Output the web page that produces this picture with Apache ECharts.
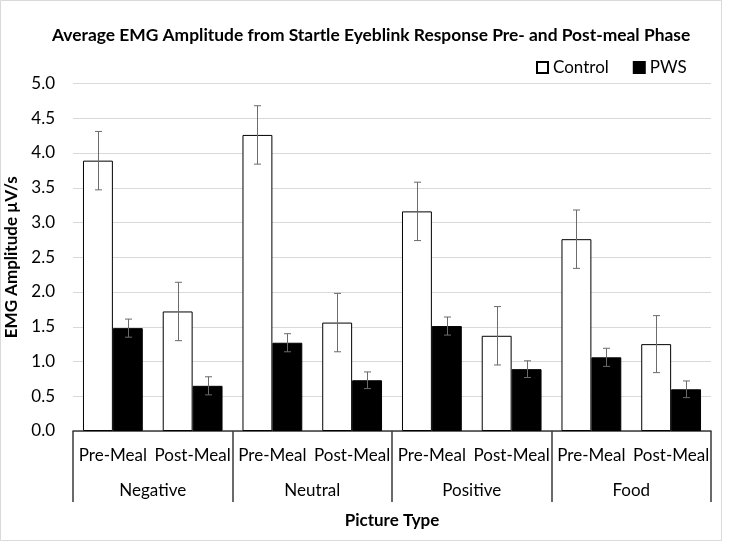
<!DOCTYPE html>
<html>
<head>
<meta charset="utf-8">
<script src="https://cdn.jsdelivr.net/npm/echarts@6/dist/echarts.min.js"></script>
<style>
html,body{margin:0;padding:0;background:#fff;}
#main{width:729px;height:542px;}
</style>
</head>
<body>
<div id="main"></div>
<script>
var phases = ['Pre-Meal','Post-Meal','Pre-Meal','Post-Meal','Pre-Meal','Post-Meal','Pre-Meal','Post-Meal'];
var pictureTypes = ['Negative','Neutral','Positive','Food'];
var controlVals = [3.89, 1.72, 4.26, 1.56, 3.16, 1.37, 2.76, 1.25];
var controlErr  = [0.42, 0.42, 0.42, 0.42, 0.42, 0.42, 0.42, 0.41];
var pwsVals = [1.48, 0.65, 1.27, 0.73, 1.51, 0.89, 1.06, 0.60];
var pwsErr  = [0.13, 0.13, 0.13, 0.12, 0.13, 0.12, 0.13, 0.12];
var yTicks = [0, 5, 0.5]; // min, max, step

var font = 'Lato';
var myChart = echarts.init(document.getElementById('main'));

// error bars drawn on top of the bars, side -1 = left bar, 1 = right bar
function errSeries(vals, errs, side){
    var data = vals.map(function(v,i){ return [i, v, errs[i]]; });
    return {
        type: 'custom',
        xAxisIndex: 0,
        z: 5,
        silent: true,
        data: data,
        encode: {x: 0, y: 1},
        renderItem: function(params, api){
            var i = api.value(0), v = api.value(1), e = api.value(2);
            var band = api.size([1, 0])[0];
            var c = api.coord([i, v]);
            var x = Math.round(c[0] + side * band * 0.75 / 4) + 0.5;
            var hi = api.coord([i, v + e])[1];
            var lo = api.coord([i, v - e])[1];
            var st = {stroke: '#6b6b6b', lineWidth: 1};
            return {
                type: 'group',
                children: [
                    {type: 'line', shape: {x1: x, y1: hi, x2: x, y2: lo}, style: st},
                    {type: 'line', shape: {x1: x - 3.5, y1: hi, x2: x + 3.5, y2: hi}, style: st},
                    {type: 'line', shape: {x1: x - 3.5, y1: lo, x2: x + 3.5, y2: lo}, style: st}
                ]
            };
        }
    };
}

var option = {
    backgroundColor: '#fff',
    animation: false,
    title: {
        text: 'Average EMG Amplitude from Startle Eyeblink Response Pre- and Post-meal Phase',
        left: 47,
        top: 22,
        textStyle: {fontFamily: font, fontSize: 17.4, fontWeight: 'bold', color: '#000'}
    },
    legend: {
        left: 531,
        top: 54,
        itemWidth: 11,
        itemHeight: 11,
        itemGap: 24,
        icon: 'rect',
        textStyle: {fontFamily: font, fontSize: 17, color: '#000'},
        data: ['Control', 'PWS']
    },
    graphic: [{
        type: 'rect',
        shape: {x: 0.5, y: 0.5, width: 721, height: 540},
        style: {fill: null, stroke: '#d9d9d9', lineWidth: 1}
    }],
    grid: {left: 73, right: 18, top: 83.5, bottom: 111, outerBoundsMode: 'none'},
    xAxis: [{
        type: 'category',
        data: phases,
        axisLine: {lineStyle: {color: '#3a3a3a', width: 1.5}},
        axisTick: {show: false},
        axisLabel: {interval: 0, margin: 16, fontFamily: font, fontSize: 17, color: '#000'}
    }, {
        type: 'category',
        data: pictureTypes,
        position: 'bottom',
        axisLine: {show: false},
        axisTick: {show: true, length: 71, interval: 0, lineStyle: {color: '#3a3a3a', width: 1.5}},
        axisLabel: {interval: 0, margin: 51, fontFamily: font, fontSize: 17, color: '#000'},
        name: 'Picture Type',
        nameLocation: 'middle',
        nameGap: 81,
        nameTextStyle: {fontFamily: font, fontSize: 17, fontWeight: 'bold', color: '#000'}
    }],
    yAxis: {
        type: 'value',
        min: yTicks[0],
        max: yTicks[1],
        interval: yTicks[2],
        axisLine: {show: false},
        axisTick: {show: false},
        splitLine: {lineStyle: {color: '#d9d9d9', width: 1}},
        axisLabel: {margin: 18, fontFamily: font, fontSize: 17, color: '#000',
            formatter: function(v){ return v.toFixed(1); }},
        name: 'EMG Amplitude µV/s',
        nameLocation: 'middle',
        nameRotate: 90,
        nameGap: 44,
        nameTextStyle: {fontFamily: font, fontSize: 17, fontWeight: 'bold', color: '#000'}
    },
    series: [{
        name: 'Control',
        type: 'bar',
        xAxisIndex: 0,
        barGap: '0%',
        barCategoryGap: '25%',
        itemStyle: {color: '#fff', borderColor: '#000', borderWidth: 1},
        data: controlVals
    }, {
        name: 'PWS',
        type: 'bar',
        xAxisIndex: 0,
        barGap: '0%',
        barCategoryGap: '25%',
        itemStyle: {color: '#000', borderColor: '#000', borderWidth: 1},
        data: pwsVals
    },
    errSeries(controlVals, controlErr, -1),
    errSeries(pwsVals, pwsErr, 1)]
};
myChart.setOption(option);
</script>
</body>
</html>
